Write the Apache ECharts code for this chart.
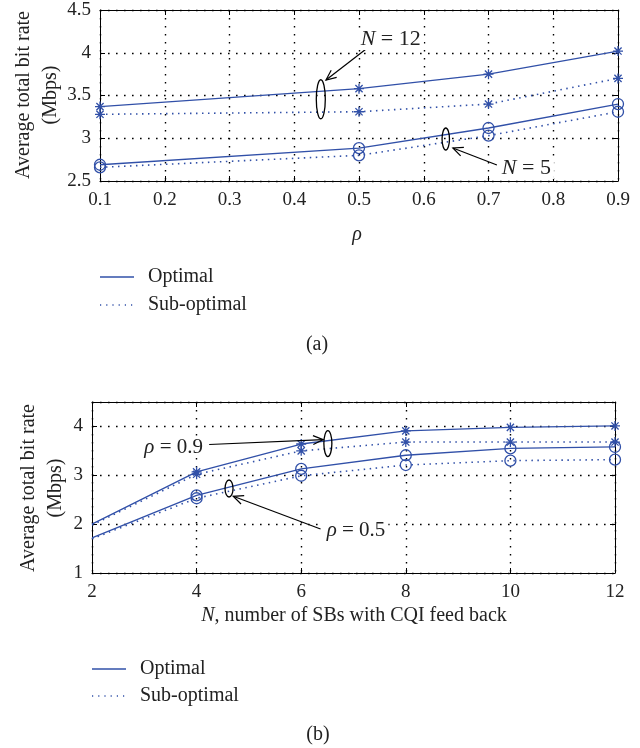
<!DOCTYPE html>
<html><head><meta charset="utf-8">
<script src="https://cdn.jsdelivr.net/npm/echarts@6/dist/echarts.min.js"></script>
<style>html,body{margin:0;padding:0;background:#fff}#c{width:640px;height:748px}</style>
</head><body><div id="c"></div>
<script>
// ---- data (a) ----
const rhoValues = [0.1, 0.5, 0.7, 0.9];
const n12Optimal = [3.37, 3.58, 3.75, 4.02];
const n12SubOptimal = [3.28, 3.31, 3.40, 3.70];
const n5Optimal = [2.69, 2.885, 3.12, 3.40];
const n5SubOptimal = [2.66, 2.80, 3.03, 3.31];
// ---- data (b) ----
const nValues = [2, 4, 6, 8, 10, 12];
const rho09Optimal = [2.00, 3.07, 3.64, 3.91, 3.98, 4.01];
const rho09SubOptimal = [1.98, 3.02, 3.50, 3.68, 3.68, 3.68];
const rho05Optimal = [1.72, 2.59, 3.13, 3.41, 3.55, 3.58];
const rho05SubOptimal = [1.70, 2.53, 2.99, 3.21, 3.30, 3.32];
// ---- ticks ----
const xTicksA = {min: 0.1, max: 0.9, interval: 0.1};
const yTicksA = {min: 2.5, max: 4.5, interval: 0.5};
const xTicksB = {min: 2, max: 12, interval: 2};
const yTicksB = {min: 1, max: 4.5, interval: 1};

const FONT = '"Liberation Serif","Times New Roman",serif';
const BLUE = '#3150a8';
const STAR = 'path://M0,-5L0,5M-5,0L5,0M-3.6,-3.6L3.6,3.6M-3.6,3.6L3.6,-3.6';

const chart = echarts.init(document.getElementById('c'));

function axisCommon(primary) {
  return {
    axisLine: {show: true, onZero: false, lineStyle: {color: '#000', width: 1}},
    axisTick: {show: true, inside: true, length: 5, lineStyle: {color: '#000', width: 1}},
    axisLabel: primary ? {show: true, color: '#222', fontFamily: FONT, fontSize: 19} : {show: false},
    splitLine: primary ? {show: true, lineStyle: {color: '#000', width: 1.4, type: [1.6, 6.4], opacity: 1}} : {show: false}
  };
}
function xAxis(grid, t, pos, primary, fmt) {
  const a = Object.assign({type: 'value', gridIndex: grid, position: pos, min: t.min, max: t.max, interval: t.interval}, axisCommon(primary));
  if (primary) { a.axisLabel.margin = 10; a.axisLabel.formatter = fmt; }
  return a;
}
function yAxis(grid, t, pos, primary, fmt) {
  const a = Object.assign({type: 'value', gridIndex: grid, position: pos, min: t.min, max: t.max, interval: t.interval}, axisCommon(primary));
  if (primary) { a.axisLabel.margin = 9; a.axisLabel.formatter = fmt; }
  return a;
}
function pts(xs, ys, skipFirstSymbol) {
  return xs.map((x, i) => (skipFirstSymbol && i === 0) ? {value: [x, ys[i]], symbol: 'none'} : [x, ys[i]]);
}
function series(name, gi, xs, ys, dotted, star, skip) {
  return {
    name: name, type: 'line', xAxisIndex: gi * 2, yAxisIndex: gi * 2,
    data: pts(xs, ys, skip), smooth: false, animation: false,
    symbol: star ? STAR : 'circle', symbolSize: star ? 10 : 11,
    itemStyle: {color: 'none', borderColor: BLUE, borderWidth: 1.3},
    lineStyle: {color: BLUE, width: dotted ? 1.6 : 1.3, type: dotted ? [1.5, 4.5] : 'solid'},
    z: 5
  };
}

chart.setOption({
  animation: false,
  grid: [
    {left: 100, top: 10, width: 518, height: 171},
    {left: 92, top: 402, width: 523, height: 171}
  ],
  xAxis: [
    xAxis(0, xTicksA, 'bottom', true, v => v.toFixed(1)),
    xAxis(0, xTicksA, 'top', false),
    xAxis(1, xTicksB, 'bottom', true, v => String(v)),
    xAxis(1, xTicksB, 'top', false)
  ],
  yAxis: [
    yAxis(0, yTicksA, 'left', true, v => (Math.round(v * 10) % 10 === 0 ? String(Math.round(v)) : v.toFixed(1))),
    yAxis(0, yTicksA, 'right', false),
    yAxis(1, yTicksB, 'left', true, v => (v === 4.5 ? '' : String(v))),
    yAxis(1, yTicksB, 'right', false)
  ],
  series: [
    series('Optimal', 0, rhoValues, n12Optimal, false, true, false),
    series('Sub-optimal', 0, rhoValues, n12SubOptimal, true, true, false),
    series('Optimal', 0, rhoValues, n5Optimal, false, false, false),
    series('Sub-optimal', 0, rhoValues, n5SubOptimal, true, false, false),
    series('Optimal', 1, nValues, rho09Optimal, false, true, true),
    series('Sub-optimal', 1, nValues, rho09SubOptimal, true, true, true),
    series('Optimal', 1, nValues, rho05Optimal, false, false, true),
    series('Sub-optimal', 1, nValues, rho05SubOptimal, true, false, true)
  ]
});

// ---- annotations (data coordinates) ----
function px(g, p) { return chart.convertToPixel({xAxisIndex: g * 2, yAxisIndex: g * 2}, p); }
const LS = {stroke: '#000', lineWidth: 1.2, fill: null};
function arrow(p0, p1) {
  const dx = p1[0] - p0[0], dy = p1[1] - p0[1], L = Math.hypot(dx, dy), ux = dx / L, uy = dy / L;
  const hl = 11, a = 0.42, c = Math.cos(a), s = Math.sin(a);
  const w1 = [p1[0] - hl * (ux * c - uy * s), p1[1] - hl * (uy * c + ux * s)];
  const w2 = [p1[0] - hl * (ux * c + uy * s), p1[1] - hl * (uy * c - ux * s)];
  return [
    {type: 'polyline', shape: {points: [p0, p1]}, style: LS, z: 10},
    {type: 'polyline', shape: {points: [w1, p1, w2]}, style: LS, z: 10}
  ];
}
function ellipse(c, rx, ry) {
  return {type: 'ellipse', shape: {cx: c[0], cy: c[1], rx: rx, ry: ry}, style: {stroke: '#000', lineWidth: 1.3, fill: null}, z: 10};
}
function txt(text, x, y, size, align, extra, bg) {
  const st = {
    text: text, x: x, y: y, fill: '#222', font: size + 'px ' + FONT,
    fontFamily: FONT, fontSize: size,
    align: align || 'center', verticalAlign: 'middle',
    rich: {i: {fontStyle: 'italic', fontFamily: FONT, fontSize: size, fill: '#222'}}
  };
  if (bg) { st.backgroundColor = '#fff'; st.padding = [0, 3]; }
  return Object.assign({type: 'text', z: 11, style: st}, extra || {});
}

const g = [];
// (a)
g.push(ellipse(px(0, [0.441, 3.456]), 4.5, 19.5));
g.push(...arrow(px(0, [0.511, 4.044]), px(0, [0.449, 3.681])));
const l12 = px(0, [0.549, 4.16]);
g.push(txt('{i|N} = 12', l12[0], l12[1], 22, 'center', null, true));
g.push(ellipse(px(0, [0.634, 2.991]), 3.7, 11));
g.push(...arrow(px(0, [0.713, 2.687]), px(0, [0.645, 2.886])));
const l5 = px(0, [0.716, 2.652]);
g.push(txt('{i|N} = 5', l5[0], l5[1], 22, 'left', null, true));
// (b)
const l09 = px(1, [4.18, 3.57]);
g.push(txt('{i|ρ} = 0.9', l09[0], l09[1], 21, 'right', null, true));
g.push(...arrow(px(1, [4.24, 3.63]), px(1, [6.42, 3.73])));
g.push(ellipse(px(1, [6.51, 3.65]), 4, 13));
g.push(ellipse(px(1, [4.62, 2.73]), 4, 8.5));
g.push(...arrow(px(1, [6.37, 1.90]), px(1, [4.70, 2.57])));
const l05 = px(1, [6.43, 1.87]);
g.push(txt('{i|ρ} = 0.5', l05[0], l05[1], 21, 'left', null, true));

// axis titles
g.push(txt('Average total bit rate\n(Mbps)', 37, 95, 20, 'center', {rotation: Math.PI / 2}));
g[g.length - 1].style.lineHeight = 27;
g.push(txt('Average total bit rate\n(Mbps)', 42, 488, 20, 'center', {rotation: Math.PI / 2}));
g[g.length - 1].style.lineHeight = 27;
g.push(txt('{i|ρ}', 357, 235, 20, 'center'));
g.push(txt('{i|N}, number of SBs with CQI feed back', 354, 616, 20, 'center'));

// legends
function legend(x, y1, y2) {
  return [
    {type: 'line', shape: {x1: x, y1: y1, x2: x + 34, y2: y1}, style: {stroke: BLUE, lineWidth: 1.4}, z: 10},
    txt('Optimal', x + 48, y1, 20, 'left'),
    {type: 'line', shape: {x1: x, y1: y2, x2: x + 34, y2: y2}, style: {stroke: BLUE, lineWidth: 1.4, lineDash: [1.2, 5]}, z: 10},
    txt('Sub-optimal', x + 48, y2, 20, 'left')
  ];
}
g.push(...legend(100, 277, 305));
g.push(...legend(92, 669, 696));
g.push(txt('(a)', 317, 345, 20, 'center'));
g.push(txt('(b)', 318, 735, 20, 'center'));

// rotated texts: place via element position
g.forEach(e => {
  if (e.rotation) { e.x = e.style.x; e.y = e.style.y; e.style.x = 0; e.style.y = 0; }
});
chart.setOption({graphic: {elements: g}});
</script>
</body></html>
